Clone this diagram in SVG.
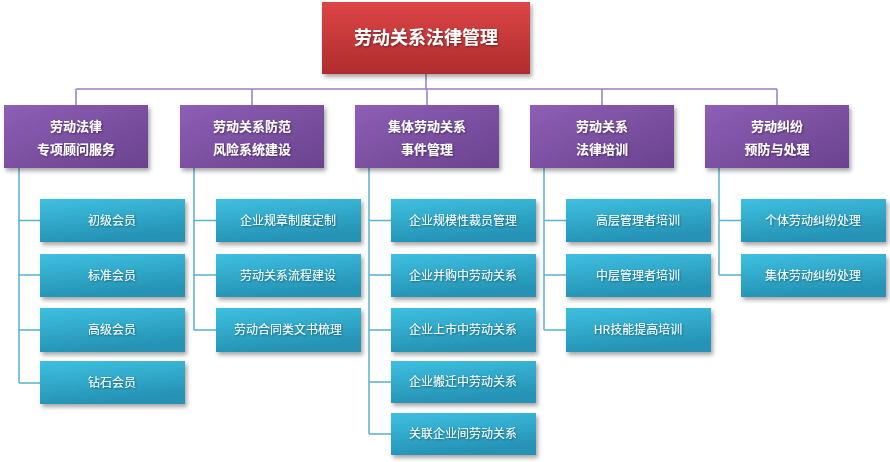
<svg xmlns="http://www.w3.org/2000/svg" width="890" height="462" viewBox="0 0 890 462">
<defs>
<linearGradient id="gRed" x1="0" y1="0" x2="0" y2="1"><stop offset="0" stop-color="#dc4646"/><stop offset="1" stop-color="#b02c2e"/></linearGradient>
<linearGradient id="gPur" x1="0" y1="0" x2="1" y2="1"><stop offset="0" stop-color="#8d5fb5"/><stop offset="1" stop-color="#6a428f"/></linearGradient>
<linearGradient id="gCy" x1="0" y1="0" x2="0.3" y2="1"><stop offset="0" stop-color="#3ec0e0"/><stop offset="1" stop-color="#2592b4"/></linearGradient>
<filter id="sh" x="-10%" y="-20%" width="125%" height="150%"><feDropShadow dx="2" dy="3" stdDeviation="2" flood-color="#000" flood-opacity="0.35"/></filter>
<filter id="ts" x="-10%" y="-30%" width="120%" height="160%"><feDropShadow dx="1" dy="1" stdDeviation="0.8" flood-color="#000" flood-opacity="0.45"/></filter>
</defs>
<style>
.top{fill:url(#gRed);filter:url(#sh)}
.l2{fill:url(#gPur);filter:url(#sh)}
.l3{fill:url(#gCy);filter:url(#sh)}
text{font-family:"Noto Sans CJK SC","Noto Sans",sans-serif;fill:#fff;text-anchor:middle;filter:url(#ts)}
.t1{font-size:18px;font-weight:bold}
.t2{font-size:13px;font-weight:bold}
.t3{font-size:12px}
.cp{fill:none;stroke:#9b7cc2;stroke-width:1.5}
.cb{fill:none;stroke:#5ab2cc;stroke-width:1.5}
</style>
<g id="connectors">
<path class="cp" d="M426 74V89M76 89H777M76 89V105M252 89V105M427 89V105M602 89V105M777 89V105"/>
<path class="cb" d="M19 168V383M19 220.5H40M19 275H40M19 330H40M19 383H40"/>
<path class="cb" d="M194 168V330M194 220.5H216M194 275H216M194 330H216"/>
<path class="cb" d="M369 168V434M369 220.5H391M369 275H391M369 330H391M369 382H391M369 434H391"/>
<path class="cb" d="M544 168V330M544 220.5H566M544 275H566M544 330H566"/>
<path class="cb" d="M719 168V275M719 220.5H741M719 275H741"/>
</g>
<g id="root"><rect class="top" x="322" y="2" width="208" height="72"/><text class="t1" x="426" y="44">劳动关系法律管理</text></g>
<g id="n1"><rect class="l2" x="4" y="105" width="144" height="63"/><text class="t2" x="76" y="131">劳动法律</text><text class="t2" x="76" y="154">专项顾问服务</text></g>
<g id="n2"><rect class="l2" x="180" y="105" width="144" height="63"/><text class="t2" x="252" y="131">劳动关系防范</text><text class="t2" x="252" y="154">风险系统建设</text></g>
<g id="n3"><rect class="l2" x="355" y="105" width="144" height="63"/><text class="t2" x="427" y="131">集体劳动关系</text><text class="t2" x="427" y="154">事件管理</text></g>
<g id="n4"><rect class="l2" x="530" y="105" width="144" height="63"/><text class="t2" x="602" y="131">劳动关系</text><text class="t2" x="602" y="154">法律培训</text></g>
<g id="n5"><rect class="l2" x="705" y="105" width="144" height="63"/><text class="t2" x="777" y="131">劳动纠纷</text><text class="t2" x="777" y="154">预防与处理</text></g>
<g id="n1a"><rect class="l3" x="40" y="199" width="145" height="43"/><text class="t3" x="112" y="225">初级会员</text></g>
<g id="n1b"><rect class="l3" x="40" y="254" width="145" height="43"/><text class="t3" x="112" y="280">标准会员</text></g>
<g id="n1c"><rect class="l3" x="40" y="308" width="145" height="44"/><text class="t3" x="112" y="334">高级会员</text></g>
<g id="n1d"><rect class="l3" x="40" y="361" width="145" height="43"/><text class="t3" x="112" y="387">钻石会员</text></g>
<g id="n2a"><rect class="l3" x="216" y="199" width="145" height="43"/><text class="t3" x="288" y="225">企业规章制度定制</text></g>
<g id="n2b"><rect class="l3" x="216" y="254" width="145" height="43"/><text class="t3" x="288" y="280">劳动关系流程建设</text></g>
<g id="n2c"><rect class="l3" x="216" y="308" width="145" height="44"/><text class="t3" x="288" y="334">劳动合同类文书梳理</text></g>
<g id="n3a"><rect class="l3" x="391" y="199" width="145" height="43"/><text class="t3" x="463" y="225">企业规模性裁员管理</text></g>
<g id="n3b"><rect class="l3" x="391" y="254" width="145" height="43"/><text class="t3" x="463" y="280">企业并购中劳动关系</text></g>
<g id="n3c"><rect class="l3" x="391" y="308" width="145" height="44"/><text class="t3" x="463" y="334">企业上市中劳动关系</text></g>
<g id="n3d"><rect class="l3" x="391" y="361" width="145" height="42"/><text class="t3" x="463" y="386">企业搬迁中劳动关系</text></g>
<g id="n3e"><rect class="l3" x="391" y="413" width="145" height="42"/><text class="t3" x="463" y="438">关联企业间劳动关系</text></g>
<g id="n4a"><rect class="l3" x="566" y="199" width="145" height="43"/><text class="t3" x="638" y="225">高层管理者培训</text></g>
<g id="n4b"><rect class="l3" x="566" y="254" width="145" height="43"/><text class="t3" x="638" y="280">中层管理者培训</text></g>
<g id="n4c"><rect class="l3" x="566" y="308" width="145" height="44"/><text class="t3" x="638" y="334">HR技能提高培训</text></g>
<g id="n5a"><rect class="l3" x="741" y="199" width="145" height="43"/><text class="t3" x="813" y="225">个体劳动纠纷处理</text></g>
<g id="n5b"><rect class="l3" x="741" y="254" width="145" height="43"/><text class="t3" x="813" y="280">集体劳动纠纷处理</text></g>
</svg>
